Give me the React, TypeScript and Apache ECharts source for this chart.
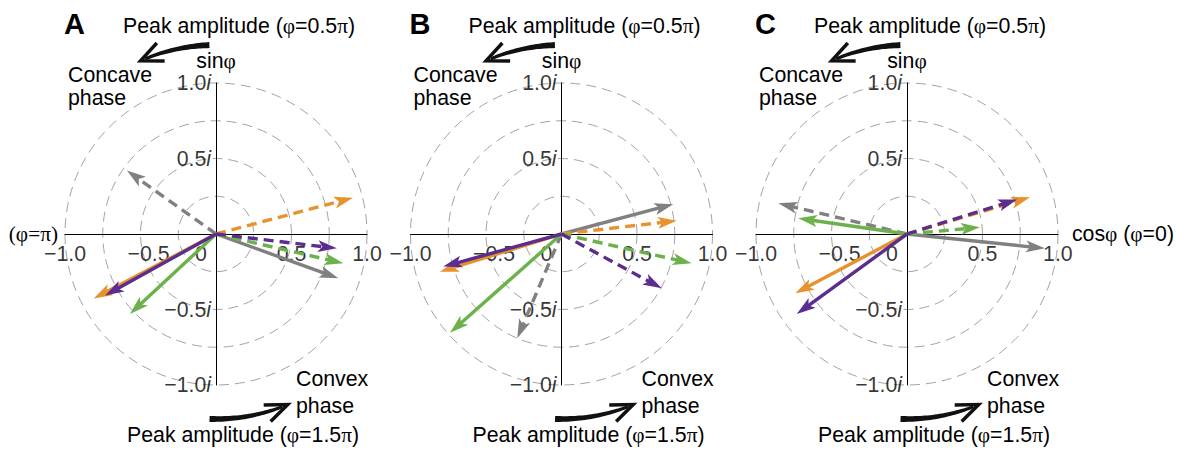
import React, { useEffect, useRef } from "react";
import * as echarts from "echarts";

// ---- data (unit-circle coordinates: [cos part, sin part]) per panel A, B, C ----
const panelNames = ["A", "B", "C"];
const orangeSolid = [[-0.81, -0.427], [-0.805, -0.25], [-0.74, -0.393]];
const purpleSolid = [[-0.735, -0.407], [-0.783, -0.216], [-0.73, -0.53]];
const greenSolid = [[-0.57, -0.53], [-0.738, -0.654], [-0.72, 0.104]];
const graySolid = [[0.81, -0.293], [0.74, 0.197], [0.914, -0.095]];
const orangeDashed = [[0.907, 0.24], [0.763, 0.088], [0.815, 0.243]];
const purpleDashed = [[0.8, -0.095], [0.664, -0.36], [0.73, 0.228]];
const greenDashed = [[0.843, -0.194], [0.862, -0.194], [0.483, 0.044]];
const grayDashed = [[-0.59, 0.42], [-0.293, -0.69], [-0.852, 0.203]];

const tickValues = [-1, -0.5, 0, 0.5, 1];
const xTickLabels = ["\u22121.0", "\u22120.5", "0", "0.5", "1.0"];
const yTickLabels = ["\u22121.0", "\u22120.5", "", "0.5", "1.0"];
const ringValues = [0.25, 0.5, 0.75, 1.0];

// ---- styling ----
const FONT = '"Liberation Sans", Arial, Helvetica, sans-serif';
const SERIF = '"Liberation Serif", "Times New Roman", serif';
const FS = 21.3;
const ORANGE = "#E8922E";
const PURPLE = "#5B2D8E";
const GREEN = "#6CB24B";
const GRAY = "#808080";

// draw order: first is bottom-most
const groups = [
  { data: grayDashed, color: GRAY, dashed: true },
  { data: graySolid, color: GRAY, dashed: false },
  { data: orangeDashed, color: ORANGE, dashed: true },
  { data: orangeSolid, color: ORANGE, dashed: false },
  { data: greenDashed, color: GREEN, dashed: true },
  { data: greenSolid, color: GREEN, dashed: false },
  { data: purpleDashed, color: PURPLE, dashed: true },
  { data: purpleSolid, color: PURPLE, dashed: false },
];

const CX = [216, 561.5, 907];
const CY = 234;
const R = 151;

function renderArrow(params: any, api: any) {
  const k = api.value(2);
  const g = groups[k];
  const p0 = api.coord([0, 0]);
  const p1 = api.coord([api.value(0), api.value(1)]);
  const dx = p1[0] - p0[0];
  const dy = p1[1] - p0[1];
  const len = Math.hypot(dx, dy);
  const ux = dx / len, uy = dy / len;
  const nx = -uy, ny = ux;
  const L = 19, W = 6, N = 4.5;
  const bx = p1[0] - ux * L, by = p1[1] - uy * L;
  const notch = [p1[0] - ux * (L - N), p1[1] - uy * (L - N)];
  const left = [bx + nx * W, by + ny * W];
  const right = [bx - nx * W, by - ny * W];
  const lineEnd = [p1[0] - ux * (L - N - 1), p1[1] - uy * (L - N - 1)];
  return {
    type: "group",
    children: [
      {
        type: "line",
        shape: { x1: p0[0], y1: p0[1], x2: lineEnd[0], y2: lineEnd[1] },
        style: {
          stroke: g.color,
          lineWidth: 3.4,
          lineDash: g.dashed ? [10, 6] : null,
          fill: null,
        },
      },
      {
        type: "polygon",
        shape: { points: [p1, left, notch, right] },
        style: { fill: g.color, stroke: null },
      },
    ],
  };
}

function taperedArc(cx: number, cy: number, r: number, a0: number, a1: number, w0: number, w1: number) {
  const outer: number[][] = [];
  const inner: number[][] = [];
  const n = 30;
  for (let t = 0; t <= n; t++) {
    const f = t / n;
    const th = ((a0 + (a1 - a0) * f) * Math.PI) / 180;
    const w = (w0 + (w1 - w0) * f) / 2;
    outer.push([cx + (r + w) * Math.cos(th), cy - (r + w) * Math.sin(th)]);
    inner.push([cx + (r - w) * Math.cos(th), cy - (r - w) * Math.sin(th)]);
  }
  return outer.concat(inner.reverse());
}

function chevron(cx: number, cy: number, r: number, tipDeg: number, half: number, armLen: number) {
  const th = (tipDeg * Math.PI) / 180;
  const tip = [cx + r * Math.cos(th), cy - r * Math.sin(th)];
  const tx = -Math.sin(th), ty = -Math.cos(th);
  const bx = -tx, by = -ty;
  const a = (half * Math.PI) / 180;
  const arm = (s: number) => [
    tip[0] + armLen * (bx * Math.cos(s * a) - by * Math.sin(s * a)),
    tip[1] + armLen * (bx * Math.sin(s * a) + by * Math.cos(s * a)),
  ];
  return [arm(1), tip, arm(-1)];
}

function txt(text: string, x: number, y: number, extra: any = {}) {
  return {
    type: "text",
    x: 0,
    y: 0,
    silent: true,
    style: {
      text,
      x,
      y,
      fontSize: FS,
      fontFamily: FONT,
      fill: "#000",
      align: "left",
      verticalAlign: "middle",
      textAlign: "left",
      textVerticalAlign: "middle",
      rich: { g: { fontFamily: SERIF, fontSize: FS, fill: "#000" } },
      ...extra,
    },
  };
}

function buildOption() {
  const grid = CX.map((cx) => ({ left: cx - R, top: CY - R, width: 2 * R, height: 2 * R }));
  const nameRich = {
    s: { fontSize: FS, fontFamily: SERIF, color: "#000" },
    a: { fontSize: FS, fontFamily: FONT, color: "#000" },
    b: { fontSize: FS, fontFamily: SERIF, color: "#000" },
  };
  const xAxis = CX.map((_, i) => ({
    type: "value",
    gridIndex: i,
    min: -1,
    max: 1,
    interval: 0.5,
    splitLine: { show: false },
    axisTick: { show: false },
    axisLabel: { show: false },
    axisLine: { show: true, onZero: true, lineStyle: { color: "#000", width: 1 } },
    name: i === 0 ? "{s|(\u03c6=\u03c0)}" : i === 2 ? "{a|cos}{b|\u03c6}{a| (}{b|\u03c6}{a|=0)}" : "",
    nameLocation: i === 0 ? "start" : "end",
    nameGap: i === 0 ? 7 : 14,
    nameTextStyle: { fontSize: FS, fontFamily: FONT, color: "#000", rich: nameRich },
  }));
  const yAxis = CX.map((_, i) => ({
    type: "value",
    gridIndex: i,
    min: -1,
    max: 1,
    interval: 0.5,
    splitLine: { show: false },
    axisTick: { show: false },
    axisLabel: { show: false },
    axisLine: { show: true, onZero: true, lineStyle: { color: "#000", width: 1 } },
    name: "{a|sin}{b|\u03c6}",
    nameLocation: "end",
    nameGap: 12,
    nameTextStyle: { fontSize: FS, fontFamily: FONT, color: "#000", rich: nameRich },
  }));

  const polar = CX.map((cx) => ({ center: [cx, CY], radius: R }));
  const angleAxis = CX.map((_, i) => ({ polarIndex: i, show: false, min: 0, max: 360 }));
  const radiusAxis = CX.map((_, i) => ({
    polarIndex: i,
    min: 0,
    max: ringValues[ringValues.length - 1],
    interval: ringValues[0],
    axisLine: { show: false },
    axisTick: { show: false },
    axisLabel: { show: false },
    splitLine: { show: true, lineStyle: { color: "#A3A3A3", width: 1, type: [10, 6] } },
  }));

  const series: any[] = [];
  CX.forEach((_, i) => {
    // x tick labels, placed on the horizontal axis through the library's scale
    series.push({
      type: "scatter",
      xAxisIndex: i,
      yAxisIndex: i,
      silent: true,
      symbol: "circle",
      symbolSize: 0,
      itemStyle: { color: "transparent" },
      z: 3,
      data: tickValues.map((v, j) => ({ value: [v, 0], name: xTickLabels[j] })),
      label: {
        show: true,
        position: "bottom",
        distance: 9,
        color: "#000",
        fontSize: FS,
        fontFamily: FONT,
        formatter: (p: any) => {
          const j = p.dataIndex;
          const s = xTickLabels[j];
          if (j === 2) return "{z|" + s + "}";
          if (j === 1) return "{h|" + s + "}";
          return "{n|" + s + "}";
        },
        rich: {
          n: { fontSize: FS, fontFamily: FONT, color: "#000" },
          z: { fontSize: FS, fontFamily: FONT, color: "#000", padding: [0, 30, 0, 0] },
          h: { fontSize: FS, fontFamily: FONT, color: "#000", padding: [0, 0, 0, 16] },
        },
      },
    });
    // y tick labels on the vertical axis
    series.push({
      type: "scatter",
      xAxisIndex: i,
      yAxisIndex: i,
      silent: true,
      symbol: "circle",
      symbolSize: 0,
      itemStyle: { color: "transparent" },
      z: 3,
      data: tickValues
        .map((v, j) => ({ value: [0, v], name: yTickLabels[j] }))
        .filter((d) => d.name !== ""),
      label: {
        show: true,
        position: "left",
        distance: 5,
        color: "#000",
        fontSize: FS,
        fontFamily: FONT,
        formatter: (p: any) => "{n|" + p.name + "}{i|i}",
        rich: {
          n: { fontSize: FS, fontFamily: FONT, color: "#000" },
          i: { fontSize: FS, fontFamily: FONT, color: "#000", fontStyle: "italic" },
        },
      },
    });
    series.push({
      type: "custom",
      coordinateSystem: "cartesian2d",
      xAxisIndex: i,
      yAxisIndex: i,
      clip: false,
      silent: true,
      z: 5,
      dimensions: ["x", "y", "k"],
      encode: { x: 0, y: 1 },
      renderItem: renderArrow,
      data: groups.map((g, k) => [g.data[i][0], g.data[i][1], k]),
    });
  });

  const graphic: any[] = [];
  CX.forEach((cx, i) => {
    graphic.push(txt(panelNames[i], cx - 152, 24, { fontSize: 29, fontWeight: "bold" }));
    graphic.push(txt("Peak amplitude ({g|\u03c6}=0.5{g|\u03c0})", cx - 93, 26));
    graphic.push(txt("Concave", cx - 148, 75));
    graphic.push(txt("phase", cx - 148, 98));
    graphic.push(txt("Convex", cx + 80, 379));
    graphic.push(txt("phase", cx + 80, 406));
    graphic.push(txt("Peak amplitude ({g|\u03c6}=1.5{g|\u03c0})", cx - 89, 435));
    // top curved arrow (toward concave phase)
    graphic.push({
      type: "polygon",
      silent: true,
      shape: { points: taperedArc(cx, CY, 189, 92, 112, 6, 3) },
      style: { fill: "#111" },
    });
    graphic.push({
      type: "polyline",
      silent: true,
      shape: { points: chevron(cx, CY, 189, 113.5, 24, 24) },
      style: { stroke: "#111", lineWidth: 3.5, fill: null, lineJoin: "miter" },
    });
    // bottom curved arrow (toward convex phase)
    graphic.push({
      type: "polygon",
      silent: true,
      shape: { points: taperedArc(cx, CY, 185, -92, -69, 6, 3) },
      style: { fill: "#111" },
    });
    graphic.push({
      type: "polyline",
      silent: true,
      shape: { points: chevron(cx, CY, 185, -67.2, 22, 24) },
      style: { stroke: "#111", lineWidth: 3.5, fill: null, lineJoin: "miter" },
    });
  });

  return {
    animation: false,
    backgroundColor: "#fff",
    grid,
    xAxis,
    yAxis,
    polar,
    angleAxis,
    radiusAxis,
    series,
    graphic: { elements: graphic },
  };
}

export default function App() {
  const ref = useRef<HTMLDivElement>(null);
  useEffect(() => {
    if (!ref.current) return;
    const chart = echarts.init(ref.current, undefined, { renderer: "svg" });
    chart.setOption(buildOption() as any);
    return () => chart.dispose();
  }, []);
  return (
    <div
      ref={ref}
      style={{ position: "fixed", left: 0, top: 0, width: 1177, height: 449, background: "#fff" }}
    />
  );
}
